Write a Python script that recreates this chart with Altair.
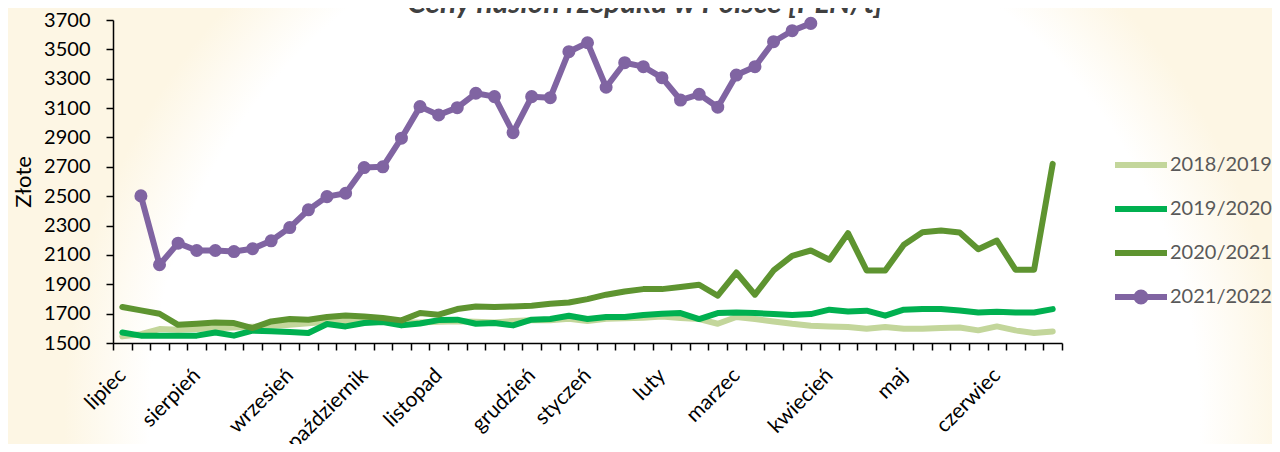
import altair as alt
import pandas as pd

# ---- data -------------------------------------------------------------
title_text = "Ceny nasion rzepaku w Polsce [PLN/t]"
series = ["2018/2019", "2019/2020", "2020/2021", "2021/2022"]
colors = ["#C3D69B", "#00B050", "#5E9430", "#8064A2"]

# tick labels (one per weekly category, blank where no month starts)
month_labels = ["lipiec", "", "", "", "sierpień", "", "", "", "", "wrzesień",
                "", "", "", "październik", "", "", "", "listopad", "", "",
                "", "", "grudzień", "", "", "styczeń", "", "", "", "luty",
                "", "", "", "marzec", "", "", "", "", "kwiecień", "",
                "", "", "maj", "", "", "", "", "czerwiec", "", "", ""]

v_2018 = [1545, 1560, 1595, 1590, 1595, 1600, 1605, 1610, 1615, 1625,
          1635, 1645, 1650, 1655, 1650, 1640, 1640, 1645, 1648, 1645,
          1640, 1650, 1655, 1655, 1665, 1650, 1665, 1668, 1672, 1680,
          1670, 1663, 1631, 1677, 1663, 1647, 1631, 1618, 1613, 1609,
          1597, 1609, 1597, 1597, 1602, 1606, 1586, 1613, 1586, 1568,
          1579]
v_2019 = [1572, 1550, 1550, 1550, 1550, 1572, 1550, 1584, 1580, 1575,
          1568, 1629, 1613, 1636, 1643, 1620, 1633, 1656, 1659, 1631,
          1636, 1620, 1659, 1663, 1686, 1663, 1677, 1677, 1690, 1699,
          1704, 1663, 1704, 1708, 1704, 1697, 1690, 1697, 1727, 1715,
          1720, 1686, 1727, 1731, 1731, 1722, 1708, 1713, 1708, 1708,
          1731]
v_2020 = [1745, 1722, 1699, 1624, 1631, 1640, 1636, 1602, 1647, 1663,
          1658, 1677, 1688, 1681, 1670, 1654, 1704, 1693, 1731, 1749,
          1745, 1749, 1754, 1767, 1776, 1799, 1829, 1851, 1867, 1867,
          1881, 1897, 1822, 1980, 1829, 1994, 2094, 2130, 2067, 2248,
          1994, 1994, 2169, 2255, 2266, 2252, 2139, 2198, 1999, 1999,
          2720]
v_2021 = [None, 2502, 2033, 2180, 2130, 2130, 2123, 2142, 2196, 2286,
          2407, 2497, 2520, 2695, 2700, 2895, 3110, 3053, 3103, 3201,
          3178, 2933, 3178, 3171, 3484, 3545, 3242, 3409, 3382, 3307,
          3155, 3194, 3106, 3325, 3382, 3552, 3627, 3677, None, None,
          None, None, None, None, None, None, None, None, None, None,
          None]

y_ticks = [1500, 1700, 1900, 2100, 2300, 2500, 2700, 2900, 3100, 3300, 3500, 3700]

rows = []
for name, vals in zip(series, [v_2018, v_2019, v_2020, v_2021]):
    for i, v in enumerate(vals):
        if v is not None:
            rows.append({"w": i, "v": v, "series": name})
df = pd.DataFrame(rows)

# ---- encodings ----------------------------------------------------------
FONT = "Lato"
label_js = "[" + ",".join("'" + m + "'" for m in month_labels) + "][datum.value]"

x_enc = alt.X(
    "w:O",
    scale=alt.Scale(type="band", paddingInner=0, paddingOuter=0),
    axis=alt.Axis(
        title=None, labelExpr=label_js, labelAngle=-45, labelAlign="right",
        labelBaseline="middle", labelPadding=22, labelFont=FONT, labelFontSize=21,
        labelColor="#000000", tickBand="extent", tickSize=7, tickColor="#000000",
        tickWidth=1.5, domainColor="#000000", domainWidth=1.5, grid=False,
        labelOverlap=False, labelFlush=False, zindex=1,
    ),
)
y_enc = alt.Y(
    "v:Q",
    scale=alt.Scale(domain=[1500, 3700], nice=False, zero=False),
    axis=alt.Axis(
        title="Złote", values=y_ticks, format="d", labelFont=FONT, labelFontSize=20,
        labelColor="#000000", labelPadding=16, tickSize=7, tickColor="#000000",
        tickWidth=1.5, domainColor="#000000", domainWidth=1.5, grid=False,
        titleFont=FONT, titleFontSize=22, titleFontWeight="normal",
        titleColor="#000000", titlePadding=8, zindex=1,
    ),
)

SYM = 52.0
legend_kw = dict(
    title=None, orient="none", legendX=999, legendY=133, labelFont=FONT,
    labelFontSize=20, labelColor="#595959", symbolSize=SYM * SYM,
    symbolStrokeWidth=5.5, clipHeight=24, rowPadding=20, labelOffset=0,
    padding=0, symbolOpacity=1, zindex=2,
)
color_enc = alt.Color(
    "series:N", scale=alt.Scale(domain=series, range=colors),
    legend=alt.Legend(**legend_kw),
)

r = 4.5 / (SYM / 2)
r2 = 1.5 / (SYM / 2)
purple_symbol = (
    f"M-1,0L1,0"
    f"M{-r},0A{r},{r},0,1,1,{r},0A{r},{r},0,1,1,{-r},0Z"
    f"M{-r2},0A{r2},{r2},0,1,1,{r2},0A{r2},{r2},0,1,1,{-r2},0Z"
)
shape_enc = alt.Shape(
    "series:N",
    scale=alt.Scale(domain=series, range=["stroke", "stroke", "stroke", purple_symbol]),
    legend=alt.Legend(**legend_kw),
)

# ---- background ---------------------------------------------------------
bg_grad = alt.RadialGradient(
    gradient="radial", x1=0.527, y1=0.641, r1=0, x2=0.527, y2=0.641, r2=0.477,
    stops=[alt.GradientStop(color="#FFFFFF", offset=0),
           alt.GradientStop(color="#FFFFFF", offset=0.86),
           alt.GradientStop(color="#FDF6E4", offset=1)],
)
bg = alt.Chart(alt.Data(values=[{"a": 1}])).mark_rect(fill=bg_grad).encode(
    x=alt.value(-113), x2=alt.value(1167), y=alt.value(-420), y2=alt.value(860)
)

# chart title (partly cut by the top edge, as in the original)
title = alt.Chart(alt.Data(values=[{"t": title_text}])).mark_text(
    font=FONT, fontSize=30, fontStyle="italic", fontWeight="bold",
    color="#404040", align="center", baseline="alphabetic",
).encode(text="t:N", x=alt.value(532), y=alt.value(-7))

base = alt.Chart(df)
lines = base.mark_line(strokeCap="round", strokeJoin="round").encode(
    x=x_enc, y=y_enc, color=color_enc,
    strokeWidth=alt.StrokeWidth("series:N", scale=alt.Scale(domain=series, range=[6, 6, 6, 5]), legend=None),
    order="w:Q",
)
points = base.transform_filter(alt.datum.series == "2021/2022").mark_circle(
    size=170, opacity=1
).encode(x=x_enc, y=y_enc, color=color_enc)
legend_shapes = base.transform_filter("false").mark_point(filled=True, opacity=1).encode(
    x=x_enc, y=y_enc, color=color_enc, shape=shape_enc
)

chart = alt.layer(bg, lines, points, legend_shapes, title).properties(
    width=949, height=323,
    autosize=alt.AutoSizeParams(type="none"),
    padding={"left": 105, "top": 12, "right": 210, "bottom": 101},
).configure_view(stroke=None).configure(background="#FFFFFF")

chart.save("out.html", embed_options={"renderer": "svg", "actions": False})
